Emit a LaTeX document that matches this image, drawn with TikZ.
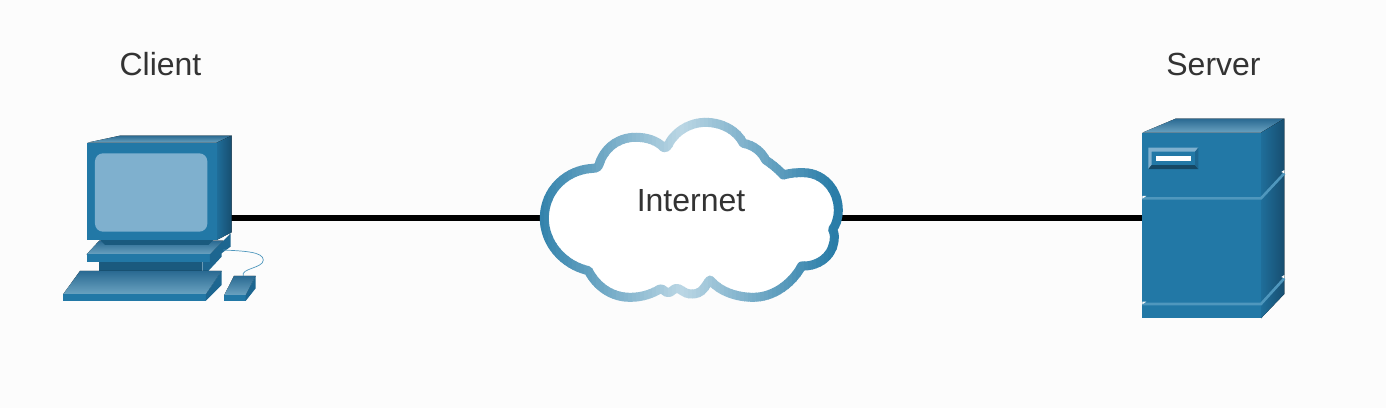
\documentclass[tikz,border=0pt]{standalone}
\usepackage{fontspec}
\setmainfont{Liberation Sans}
\definecolor{bgc}{HTML}{FCFCFC}
\definecolor{face}{HTML}{2278A6}
\definecolor{deep}{HTML}{1A5A7E}
\definecolor{mid}{HTML}{1D6690}
\definecolor{topdark}{HTML}{2A6A92}
\definecolor{toplight}{HTML}{6AA2C0}
\definecolor{sideleft}{HTML}{1F6E9A}
\definecolor{sideright}{HTML}{174E70}
\definecolor{screen}{HTML}{7FB0CE}
\definecolor{edge}{HTML}{4F97BD}
\definecolor{ringdark}{HTML}{2A7DA8}
\definecolor{ringlight}{HTML}{BAD6E4}
\definecolor{ink}{HTML}{333333}
\newcommand{\cloudshape}{(43,325) .. controls (43,240) and (110,178) .. (190,175)
 .. controls (205,175) and (207,165) .. (210,155)
 .. controls (230,105) and (275,80) .. (320,82)
 .. controls (355,82) and (385,95) .. (400,112)
 .. controls (408,118) and (415,105) .. (420,95)
 .. controls (445,55) and (490,37) .. (525,37)
 .. controls (575,37) and (620,60) .. (640,100)
 .. controls (670,105) and (695,125) .. (707,150)
 .. controls (725,162) and (745,178) .. (760,195)
 .. controls (785,188) and (800,188) .. (820,188)
 .. controls (880,188) and (925,240) .. (925,300)
 .. controls (925,325) and (918,345) .. (908,358)
 .. controls (915,375) and (914,385) .. (912,395)
 .. controls (905,440) and (865,470) .. (815,468)
 .. controls (790,515) and (735,562) .. (670,562)
 .. controls (620,562) and (570,545) .. (540,510)
 .. controls (525,525) and (520,555) .. (480,552)
 .. controls (465,552) and (450,535) .. (440,535)
 .. controls (430,535) and (425,548) .. (415,548)
 .. controls (405,548) and (400,535) .. (390,537)
 .. controls (360,555) and (330,562) .. (300,562)
 .. controls (245,562) and (200,530) .. (175,482)
 .. controls (100,465) and (43,400) .. (43,325) -- cycle}
\tikzset{
  flat/.style={fill=#1,draw=none},
  toptone/.style={top color=topdark,bottom color=toplight,draw=none},
  sidetone/.style={left color=sideleft,right color=sideright,draw=none},
  label/.style={text=ink,font=\fontsize{32}{38}\selectfont,inner sep=0pt},
  zoomleft/.style={shift={(50,125)},x=0.3333pt,y=-0.3333pt},
  zoomright/.style={shift={(1130,110)},x=0.3333pt,y=-0.3333pt},
  zoomcloud/.style={shift={(530,110)},x=0.3333pt,y=-0.3333pt},
  wire/.style={line width=6pt,draw=black}
}
\begin{document}
\begin{tikzpicture}[x=1pt,y=-1pt]
\useasboundingbox (0,0) rectangle (1386,408);
\fill[bgc] (0,0) rectangle (1386,408);
\coordinate (clientport) at (225,218);
\coordinate (cloudleft) at (545,218);
\coordinate (cloudright) at (838,218);
\coordinate (serverport) at (1146,218);
\draw[wire] (clientport) -- (cloudleft);
\draw[wire] (cloudright) -- (serverport);
% client
\begin{scope}[zoomleft]
\fill[flat=mid] (457,410) -- (515,372) -- (515,395) -- (475,438) -- (457,438) -- cycle;
\fill[flat=deep] (147,410) rectangle (457,438);
\fill[toptone] (110,388) -- (148,347) -- (520,347) -- (480,388) -- cycle;
\fill[flat=face] (110,388) rectangle (480,410);
\fill[flat=mid] (480,388) -- (542,325) -- (542,365) -- (480,410) -- cycle;
\fill[flat=deep] (150,345) -- (490,345) -- (475,360) -- (165,360) -- cycle;
\fill[toptone] (112,53) -- (210,32) -- (545,32) -- (500,53) -- cycle;
\fill[sidetone] (500,53) -- (545,32) -- (545,322) -- (500,345) -- cycle;
\fill[flat=face] (112,53) rectangle (500,345);
\fill[screen,rounded corners=8pt] (135,85) rectangle (472,320);
\fill[toptone] (40,507) -- (90,438) -- (515,438) -- (468,507) -- cycle;
\fill[flat=face] (40,507) rectangle (468,527);
\fill[flat=mid] (468,507) -- (515,438) -- (515,480) -- (468,527) -- cycle;
\fill[toptone] (523,510) -- (552,453) -- (617,453) -- (587,510) -- cycle;
\fill[flat=face] (523,510) rectangle (587,528);
\fill[flat=mid] (587,510) -- (617,453) -- (617,490) -- (587,528) -- cycle;
\coordinate (cablestart) at (520,375);
\coordinate (cableend) at (580,453);
\draw[edge,line width=0.7pt] (cablestart) .. controls (580,378) and (640,380) .. (640,405) .. controls (640,430) and (570,430) .. (cableend);
\end{scope}
% cloud
\begin{scope}[zoomcloud]
\fill[white] \cloudshape;
\end{scope}
\foreach \sx in {532,536,...,848}{
  \pgfmathtruncatemacro{\pct}{min(100,abs(\sx-680)/150*100)}
  \begin{scope}
    \clip (\sx,100) rectangle (\sx+4.6,320);
    \begin{scope}[zoomcloud]
      \draw[draw=ringdark!\pct!ringlight,line width=9pt,line join=round] \cloudshape;
    \end{scope}
  \end{scope}
}
\node[label] (internet) at (691,200.5) {Internet};
% server
\begin{scope}[zoomright]
\fill[toptone] (37,68) -- (137,26) -- (463,26) -- (393,68) -- cycle;
\fill[sidetone] (393,68) -- (463,26) -- (463,552) -- (393,625) -- cycle;
\fill[flat=face] (37,68) rectangle (393,625);
\draw[edge,line width=2.6pt] (37,265) -- (393,265) -- (463,190);
\draw[edge,line width=2.6pt] (37,582) -- (393,582) -- (463,505);
\fill[flat=bgc] (37,258) -- (49,258) -- (37,266) -- cycle;
\fill[flat=bgc] (37,575) -- (49,575) -- (37,583) -- cycle;
\fill[flat=bgc] (463,180) -- (454,186) -- (463,190) -- cycle;
\fill[flat=bgc] (463,495) -- (454,501) -- (463,505) -- cycle;
\fill[flat=screen] (55,113) -- (205,113) -- (195,125) -- (65,125) -- (65,165) -- (55,177) -- cycle;
\fill[flat=deep!80!black] (55,177) -- (205,177) -- (195,165) -- (65,165) -- cycle;
\fill[flat=mid] (205,113) -- (205,177) -- (195,165) -- (195,125) -- cycle;
\fill[flat=white] (77,137) rectangle (183,153);
\end{scope}
\node[label] (clientlabel) at (160.5,64) {Client};
\node[label] (serverlabel) at (1213.5,64) {Server};
\end{tikzpicture}
\end{document}
